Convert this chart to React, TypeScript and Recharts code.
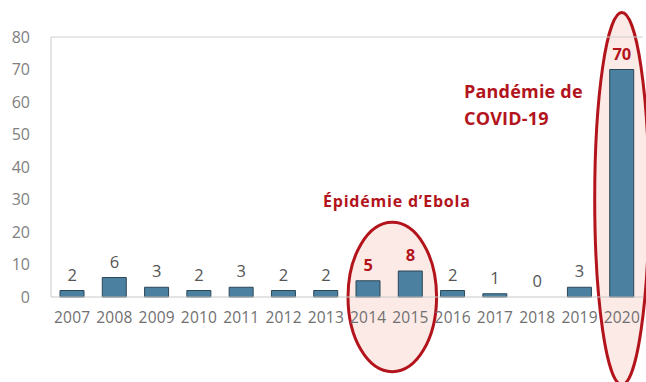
import { ComposedChart, Bar, Line, XAxis, YAxis, ReferenceArea, ReferenceLine, LabelList } from "recharts";

const years = ["2007", "2008", "2009", "2010", "2011", "2012", "2013", "2014", "2015", "2016", "2017", "2018", "2019", "2020"];
const counts = [2, 6, 3, 2, 3, 2, 2, 5, 8, 2, 1, 0, 3, 70];
const highlighted = ["2014", "2015", "2020"];
const yTicks = [0, 10, 20, 30, 40, 50, 60, 70, 80];

const data = years.map((year, i) => ({ year, count: counts[i] }));

const FONT = "'Open Sans', sans-serif";
const RED = "#b3141c";

// labels hang off an invisible line so the zero bar (2018) still gets one
const ValueLabel = (props: any) => {
  const { x, y, value, index } = props;
  const hot = highlighted.includes(years[index]);
  return (
    <text
      x={x}
      y={y - 10}
      textAnchor="middle"
      fontFamily={FONT}
      fontSize={16.5}
      fontWeight={hot ? 700 : 400}
      fill={hot ? RED : "#555"}
    >
      {value}
    </text>
  );
};

const ellipseShape = (padX: number, shiftX: number) => (props: any) => {
  const { x, y, width, height } = props;
  return (
    <ellipse
      cx={x + width / 2 + shiftX}
      cy={y + height / 2}
      rx={width / 2 + padX}
      ry={height / 2}
      fill="#fbe6e3"
      fillOpacity={0.85}
      stroke={RED}
      strokeWidth={3}
    />
  );
};

const App = () => {
  return (
    <div style={{ position: "fixed", left: 0, top: 0, background: "#fff" }}>
      <ComposedChart
        width={646}
        height={382}
        data={data}
        margin={{ top: 37, right: 3, bottom: 55, left: 0 }}
      >
        <ReferenceArea x1="2014" x2="2015" y1={-23} y2={23} ifOverflow="visible" shape={ellipseShape(2, 3)} />
        <ReferenceArea x1="2020" x2="2020" y1={-27} y2={87.5} ifOverflow="visible" shape={ellipseShape(6, 0)} />
        <ReferenceLine y={80} stroke="#d0d0d0" />
        <XAxis
          dataKey="year"
          height={30}
          interval={0}
          tickLine={false}
          tickMargin={9}
          axisLine={{ stroke: "#c8c8c8" }}
          tick={{ fontFamily: FONT, fontSize: 15.5, fill: "#707070", letterSpacing: 0.2 }}
        />
        <YAxis
          width={51}
          domain={[0, 80]}
          ticks={yTicks}
          tickLine={false}
          tickMargin={15}
          axisLine={{ stroke: "#c8c8c8" }}
          tick={{ fontFamily: FONT, fontSize: 16, fill: "#808080" }}
        />
        <Bar dataKey="count" barSize={24} fill="#4b80a0" stroke="#2c4757" strokeWidth={1} isAnimationActive={false} />
        <Line dataKey="count" stroke="none" dot={false} activeDot={false} isAnimationActive={false}>
          <LabelList dataKey="count" content={ValueLabel} />
        </Line>
      </ComposedChart>
      <svg width={646} height={382} style={{ position: "absolute", left: 0, top: 0, pointerEvents: "none" }}>
        <text x={323} y={207} fontFamily={FONT} fontSize={16} fontWeight={700} letterSpacing={0.8} fill={RED}>
          Épidémie d’Ebola
        </text>
        <text x={464} y={98} fontFamily={FONT} fontSize={18} fontWeight={700} letterSpacing={0.2} fill={RED}>
          Pandémie de
        </text>
        <text x={464} y={125} fontFamily={FONT} fontSize={18} fontWeight={700} letterSpacing={0.2} fill={RED}>
          COVID-19
        </text>
      </svg>
    </div>
  );
};

export default App;
